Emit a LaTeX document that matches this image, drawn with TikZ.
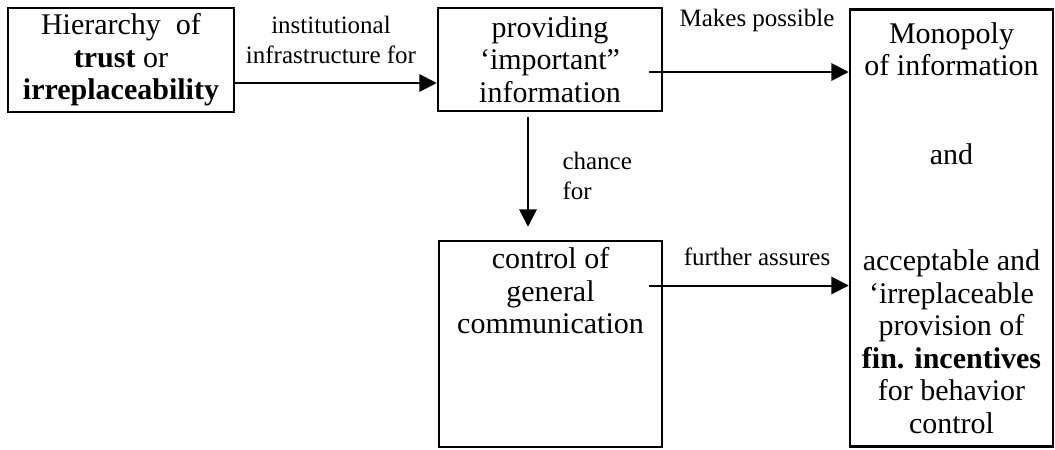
\documentclass[tikz,border=0pt]{standalone}
\usepackage{fontspec}
\setmainfont{Liberation Serif}
\usetikzlibrary{arrows.meta, positioning}

\begin{document}
\begin{tikzpicture}[x=0.4pt, y=0.4pt,
    box/.style={draw, line width=1pt, inner sep=0pt, align=center,
      font=\fontsize{12}{13}\selectfont},
    txt/.style={inner sep=0pt, align=center, font=\fontsize{12}{13}\selectfont},
    lbl/.style={inner sep=0pt, align=center, font=\fontsize{10}{12}\selectfont},
    arr/.style={-{Triangle[length=7pt, width=7pt]}, line width=0.8pt}]
  \useasboundingbox (0,0) rectangle (1055,449);
  % boxes
  \node[box, minimum width=90.4pt, minimum height=41.6pt] (hier) at (121,389)
    {Hierarchy~ of\\\textbf{trust} or\\\textbf{irreplaceability}};
  \node[box, minimum width=89.6pt, minimum height=41.2pt] (prov) at (550,389.5)
    {providing\\‘important”\\information};
  \node[box, minimum width=81.2pt, minimum height=174.8pt, anchor=north] (monop)
    at (951.5,441)
    {Monopoly\\of information\\[22.6pt]and\\[29.4pt]acceptable and\\‘irreplaceable\\provision of\\\textbf{fin. incentives}\\for behavior\\control};
  \node[box, minimum width=89.2pt, minimum height=82.4pt] (ctrl) at (550.5,105) {};
  \node[txt, anchor=north] (ctrltxt) at ([yshift=-3pt]ctrl.north)
    {control of\\general\\communication};
  % connectors
  \coordinate (ab) at ([yshift=-9.2pt]hier.east);
  \draw[arr] (ab) -- (ab -| prov.west);
  \coordinate (bc) at ([xshift=-5.6pt, yshift=-5pt]prov.east);
  \draw[arr] (bc) -- (bc -| monop.west);
  \coordinate (bd) at ([xshift=-8.8pt, yshift=-2pt]prov.south);
  \coordinate (db) at ([xshift=-9pt, yshift=5.2pt]ctrl.north);
  \draw[arr] (bd) -- (db);
  \coordinate (dc) at ([xshift=-5.6pt, yshift=23.4pt]ctrl.east);
  \draw[arr] (dc) -- (dc -| monop.west);
  % labels
  \node[lbl] (infra) at (331,409) {institutional\\infrastructure for};
  \node[lbl] (makes) at (757,429) {Makes possible};
  \node[lbl, align=left, anchor=west] (chance) at (562,273) {chance\\for};
  \node[lbl] (assures) at (757,192) {further assures};
\end{tikzpicture}
\end{document}
